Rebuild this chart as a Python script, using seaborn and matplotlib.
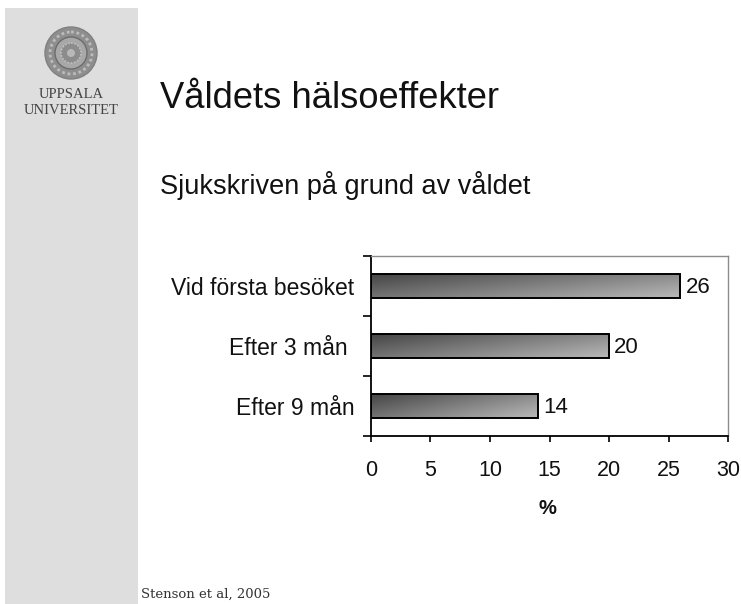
"""
Sick leave after violence, slide from Uppsala University.

"""
import numpy as np
import pandas as pd
import matplotlib
matplotlib.use('Agg')
import matplotlib.pyplot as plt
from matplotlib.patches import Circle, Rectangle
import seaborn as sns

CATEGORIES = ['Vid första besöket', 'Efter 3 mån ', 'Efter 9 mån']
VALUES = [26, 20, 14]
X_TICKS = [0, 5, 10, 15, 20, 25, 30]

TITLE = 'Våldets hälsoeffekter'
SUBTITLE = 'Sjukskriven på grund av våldet'
XLABEL = '%'
SOURCE = 'Stenson et al, 2005'
LOGO_TEXT = ['UPPSALA', 'UNIVERSITET']

W, H = 741, 604


def px(x, y):
    """
    Pixel position in the slide to figure fraction.

    """
    return x / W, 1 - y / H


def draw_slide(fig):
    """
    Grey side band, seal and the slide texts.

    """
    bg = fig.add_axes([0, 0, 1, 1], zorder=0)
    bg.set_xlim(0, W)
    bg.set_ylim(H, 0)
    bg.axis('off')

    bg.add_patch(Rectangle((5, 8), 133, 596, color='#dedede', lw=0))

    bg.add_patch(Circle((71, 53), 26, fc='#8e8e8e', ec='#808080', lw=1))
    bg.add_patch(Circle((71, 53), 21, fc='none', ec='#bcbcbc', lw=2, ls=(0, (1, 1))))
    bg.add_patch(Circle((71, 53), 16, fc='#a8a8a8', ec='#6c6c6c', lw=1))
    bg.add_patch(Circle((71, 53), 10, fc='#8c8c8c', ec='#c0c0c0', lw=1.2, ls=(0, (1, 1))))
    bg.add_patch(Circle((71, 53), 4, fc='#b8b8b8', ec='none'))

    serif = 'Liberation Serif'
    fig.text(*px(71, 95), LOGO_TEXT[0], family=serif, size=10.5, color='#444444',
             ha='center', va='center')
    fig.text(*px(71, 111), LOGO_TEXT[1], family=serif, size=10.5, color='#444444',
             ha='center', va='center')
    fig.text(*px(160, 98), TITLE, family='Liberation Sans', size=26.2, color='#111111',
             va='center')
    fig.text(*px(160, 185), SUBTITLE, family='Liberation Sans', size=19.5, color='#111111',
             va='center')
    fig.text(*px(141, 594), SOURCE, family='DejaVu Serif', size=9.5, color='#333333',
             va='center')


def plot():
    """
    Plot data.

    """
    sns.set_theme(style='white')
    plt.rcParams['font.family'] = ['Liberation Sans', 'DejaVu Sans']

    fig = plt.figure(figsize=(W / 100, H / 100), dpi=100, facecolor='white')
    draw_slide(fig)

    ax = fig.add_axes([371 / W, 1 - 436 / H, 357 / W, 180 / H], zorder=1)
    ax.patch.set_alpha(0)

    data = pd.DataFrame({'label': CATEGORIES, 'value': VALUES})
    sns.barplot(data=data, x='value', y='label', ax=ax, width=0.4, color='#888888',
                saturation=1, edgecolor='black', linewidth=1.4)

    # gradient fill, dark top left to light bottom right, clipped to each bar
    yy, xx = np.mgrid[0:1:40j, 0:1:200j]
    shade = 0.6 * xx + 0.4 * yy
    for bar in ax.patches:
        x0, y0, w, h = bar.get_x(), bar.get_y(), bar.get_width(), bar.get_height()
        img = ax.imshow(shade, extent=(x0, x0 + w, y0 + h, y0), aspect='auto',
                        cmap='gray', vmin=-0.6, vmax=1.6, zorder=2, origin='upper')
        img.set_clip_path(bar)
        bar.set_facecolor('none')
        bar.set_zorder(3)
        ax.text(x0 + w + 0.45, y0 + h / 2 + 0.02, str(int(w)), va='center', ha='left',
                fontsize=16, color='#111111')

    ax.set_xlim(0, 30)
    ax.set_ylim(2.5, -0.5)
    ax.set_xticks(X_TICKS)
    ax.set_xlabel(XLABEL, fontsize=14.5, fontweight='bold', color='#111111', labelpad=13,
                  x=0.495)
    ax.set_ylabel('')

    ax.set_yticks([-0.5, 0.5, 1.5, 2.5], labels=[''] * 4)
    ax.set_yticks(range(len(CATEGORIES)), labels=CATEGORIES, minor=True)
    ax.tick_params(axis='y', which='major', left=True, length=5.5, width=1.2, color='black')
    ax.tick_params(axis='y', which='minor', left=False, length=0, pad=12, labelsize=16.5,
                   labelcolor='#111111')
    ax.tick_params(axis='x', bottom=True, length=4.5, width=1.2, color='black', pad=13,
                   labelsize=15.5, labelcolor='#111111')

    for side in ['left', 'bottom']:
        ax.spines[side].set_color('black')
        ax.spines[side].set_linewidth(1.3)
    for side in ['top', 'right']:
        ax.spines[side].set_color('#8c8c8c')
        ax.spines[side].set_linewidth(1)

    plt.savefig('out.png', dpi=100)


if __name__ == '__main__':

    plot()
